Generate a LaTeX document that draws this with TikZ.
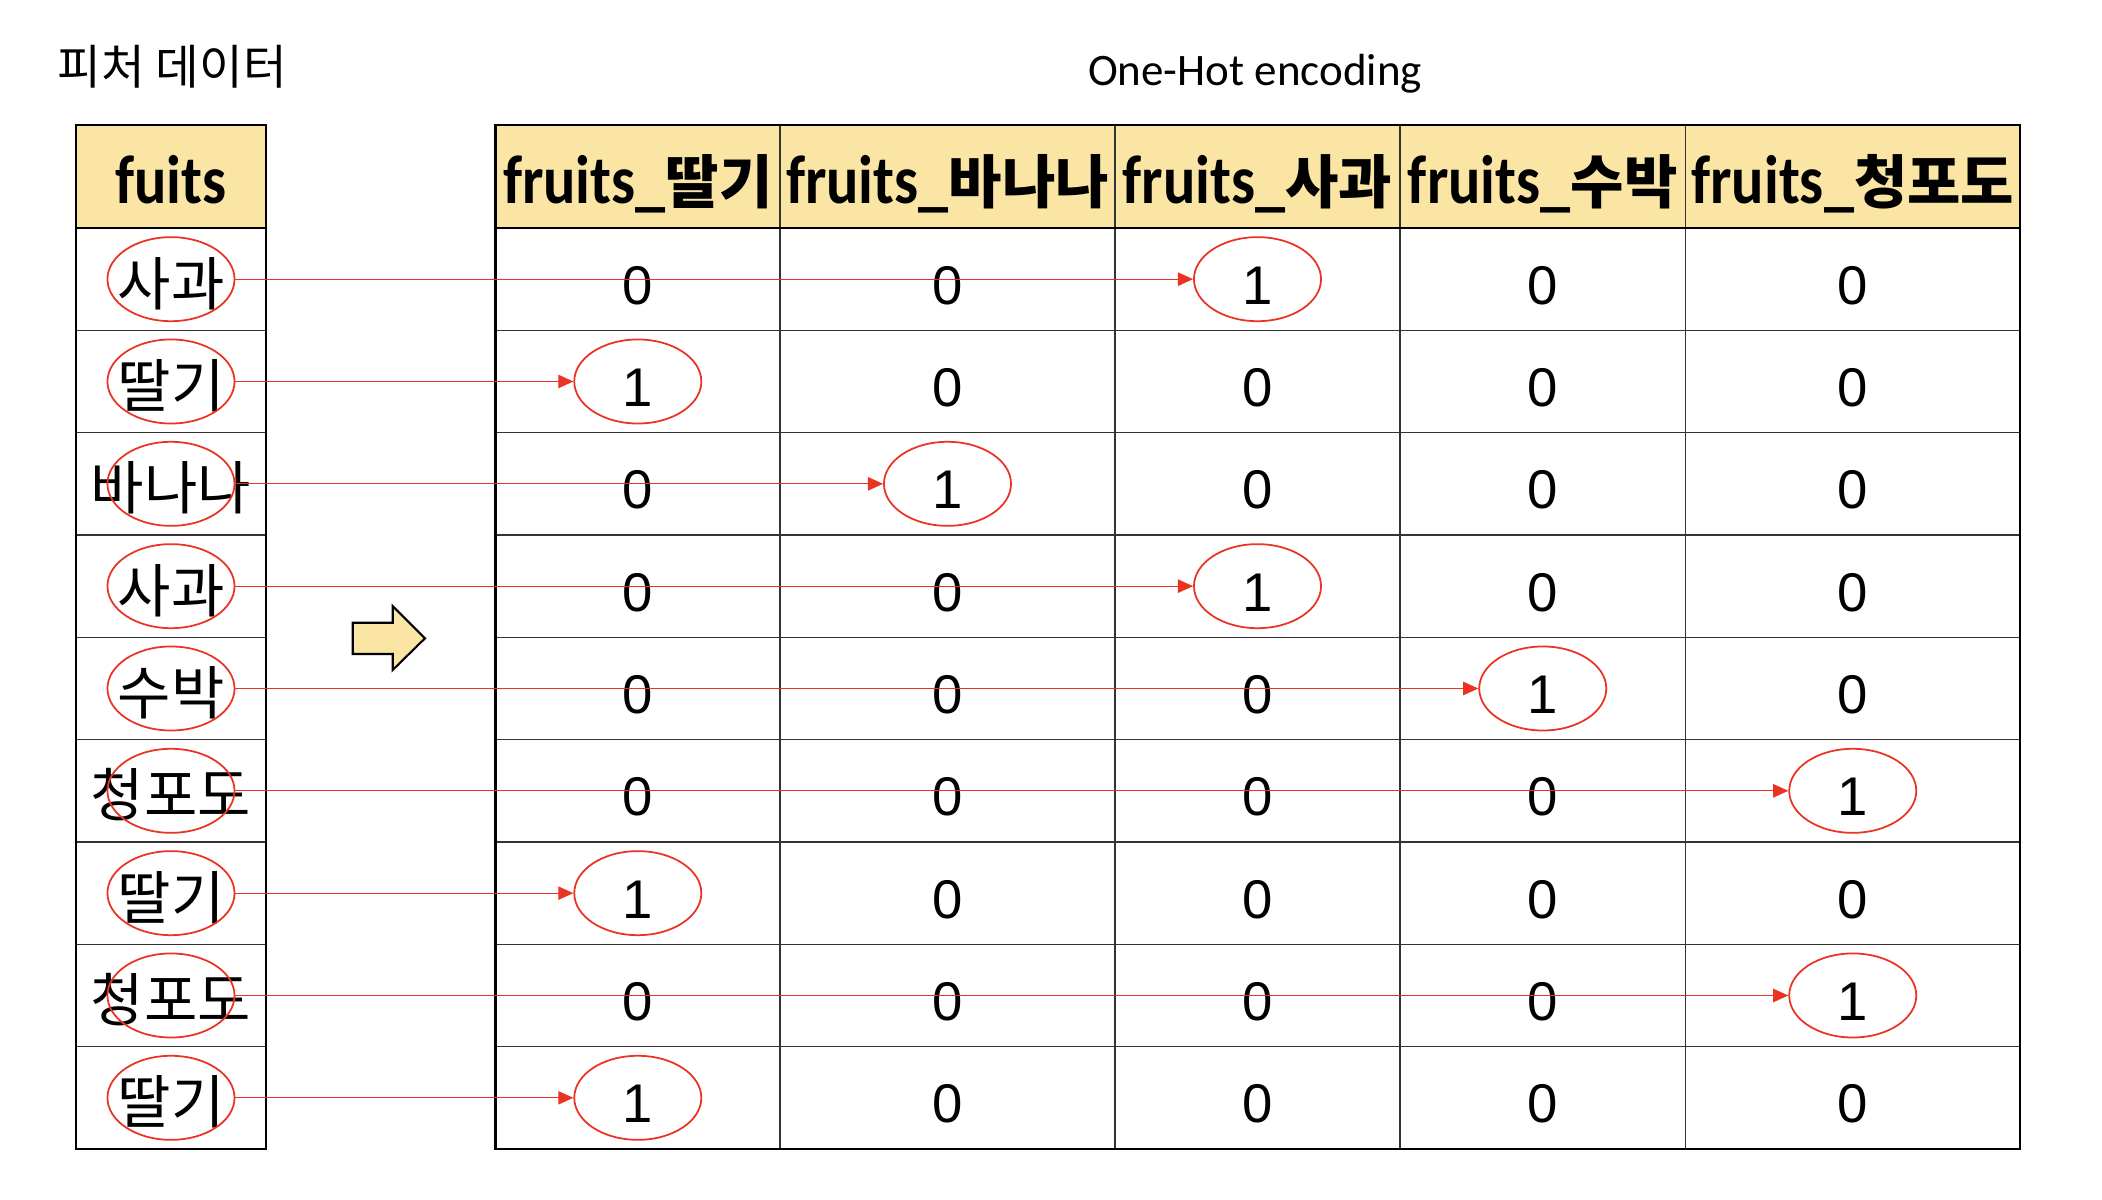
\documentclass[tikz,border=0pt]{standalone}
\usepackage{fontspec}
\setmainfont{Carlito}
\newfontfamily\kr{Noto Sans CJK KR}
\newfontfamily\digits{Liberation Sans}
\newfontfamily\headfont{Carlito}[FakeStretch=0.88]
\usetikzlibrary{shapes.geometric,arrows.meta}
\definecolor{headfill}{RGB}{250,229,165}
\definecolor{hotred}{RGB}{234,51,35}

\begin{document}
\begin{tikzpicture}[x=0.01cm,y=-0.01cm,
    ring/.style={draw=hotred,line width=0.5pt,ellipse,minimum width=1.27cm,minimum height=0.84cm,inner sep=0pt},
    cell/.style={anchor=base,inner sep=0pt,font=\digits\fontsize{15.5}{18}\selectfont},
    fruit/.style={anchor=base,inner sep=0pt,font=\kr\fontsize{16.5}{20}\selectfont},
    head/.style={anchor=base,inner sep=0pt,font=\headfont\fontsize{19.5}{22}\selectfont\bfseries},
    link/.style={draw=hotred,line width=0.35pt,-{Triangle[length=4.3pt,width=3.8pt]}}]

    \useasboundingbox (0,0) rectangle (2102,1200);

    % header fills
    \fill[headfill] (76,125) rectangle (266,228);
    \fill[headfill] (495.6,125) rectangle (2020,228);

    % grid
    \foreach \r in {1,...,8}
        \draw[black!80,line width=0.35pt] (76,228+\r*102.33) -- (266,228+\r*102.33)
            (495.6,228+\r*102.33) -- (2020,228+\r*102.33);
    \foreach \x in {780,1115,1400,1685.5}
        \draw[black!80,line width=0.35pt] (\x,125) -- (\x,1149);
    \draw[line width=0.6pt] (76,228) -- (266,228) (495.6,228) -- (2020,228);
    \draw[line width=0.8pt] (76,125) rectangle (266,1149);
    \draw[line width=0.8pt] (495.6,125) rectangle (2020,1149);

    \node[anchor=west,inner sep=0pt,font=\kr\fontsize{13.5}{16}\selectfont] (title) at (57,67) {피처 데이터};
    \node[anchor=base,inner sep=0pt,font=\fontsize{12.8}{15}\selectfont] (onehot) at (1255,85) {One-Hot encoding};

    \node[head] (fuits) at (171,203) {fuits};
    \foreach \x/\n [count=\c] in {637.8/딸기,947.5/바나나,1257.5/사과,1542.75/수박,1852.75/청포도}
        \node[head] (col\c) at (\x,203) {fruits\_{\kr\fontsize{16.5}{20}\selectfont \n}};

    % rows
    \foreach \n/\h [count=\r] in {사과/3,딸기/1,바나나/2,사과/3,수박/4,청포도/5,딸기/1,청포도/5,딸기/1} {
        \pgfmathsetmacro\y{228+(\r-0.5)*102.33}
        \node[fruit] (fruit\r) at (171,\y+26) {\n};
        \node[ring] (mark\r) at (171,\y) {};
        \foreach \x [count=\c] in {637.8,947.5,1257.5,1542.75,1852.75} {
            \ifnum\c=\h
                \node[cell] (cell-\r-\c) at (\x,\y+25) {1};
                \node[ring] (hot\r) at (\x,\y) {};
            \else
                \node[cell] (cell-\r-\c) at (\x,\y+25) {0};
            \fi
        }
        \draw[link] (mark\r) -- (hot\r);
    }

    \draw[fill=headfill,line width=0.6pt] (352.7,622.7) -- (392.7,622.7) -- (392.7,606) -- (425,638.3)
        -- (392.7,670) -- (392.7,654) -- (352.7,654) -- cycle;
\end{tikzpicture}
\end{document}
